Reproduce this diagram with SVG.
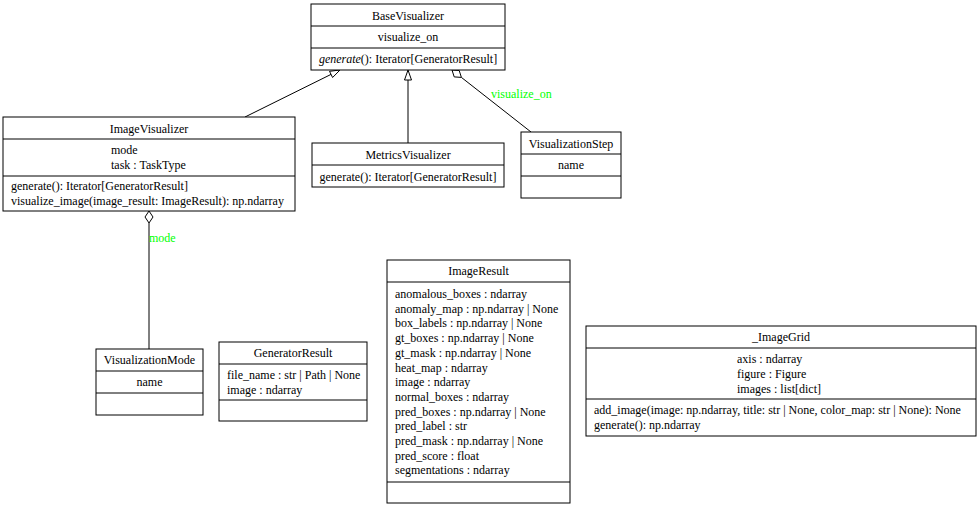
<svg xmlns="http://www.w3.org/2000/svg" width="980" height="507" viewBox="0 0 980 507">
<style>
.box{fill:#fff;stroke:#000;stroke-width:1}
.sep{stroke:#000;stroke-width:1}
text{font-size:12px;fill:#000}
.c{text-anchor:middle}
.lbl{fill:#00ff00}
.edge{stroke:#000;stroke-width:1;fill:none}
.head{fill:#fff;stroke:#000;stroke-width:1}
</style>
<rect width="980" height="507" fill="#fff"/>
<g font-family="'Liberation Serif', 'DejaVu Serif', serif">
<g id="connectors">
<path class="edge" d="M245,117 L331,74.4"/>
<polygon class="head" points="340,70 332.6,77.5 329.5,71.3"/>
<path class="edge" d="M408,143 L408,80"/>
<polygon class="head" points="408,70 404.5,80 411.5,80"/>
<path class="edge" d="M531,132 L461.4,77.4"/>
<polygon class="head" points="452,70 459.2,70.5 461.4,77.4 454.2,76.9"/>
<text class="lbl" x="491" y="98">visualize_on</text>
<path class="edge" d="M149,349 L149,223"/>
<polygon class="head" points="149,211 153,217 149,223 145,217"/>
<text class="lbl" x="149" y="242">mode</text>
</g>
<g id="BaseVisualizer">
<rect class="box" x="311" y="4" width="194" height="66"/>
<line class="sep" x1="311" y1="26" x2="505" y2="26"/>
<line class="sep" x1="311" y1="48" x2="505" y2="48"/>
<text class="c" x="408" y="20">BaseVisualizer</text>
<text class="c" x="408" y="41">visualize_on</text>
<text class="c" x="408" y="63"><tspan font-style="italic">generate</tspan>(): Iterator[GeneratorResult]</text>
</g>
<g id="ImageVisualizer">
<rect class="box" x="3" y="117" width="292" height="94"/>
<line class="sep" x1="3" y1="139" x2="295" y2="139"/>
<line class="sep" x1="3" y1="176" x2="295" y2="176"/>
<text class="c" x="149" y="133">ImageVisualizer</text>
<text x="111" y="154">mode</text>
<text x="111" y="169">task : TaskType</text>
<text x="11" y="190">generate(): Iterator[GeneratorResult]</text>
<text x="11" y="205">visualize_image(image_result: ImageResult): np.ndarray</text>
</g>
<g id="MetricsVisualizer">
<rect class="box" x="312" y="143" width="192" height="44"/>
<line class="sep" x1="312" y1="165" x2="504" y2="165"/>
<text class="c" x="408" y="159">MetricsVisualizer</text>
<text class="c" x="408" y="181">generate(): Iterator[GeneratorResult]</text>
</g>
<g id="VisualizationStep">
<rect class="box" x="521" y="132" width="100" height="66"/>
<line class="sep" x1="521" y1="154" x2="621" y2="154"/>
<line class="sep" x1="521" y1="176" x2="621" y2="176"/>
<text class="c" x="571" y="148">VisualizationStep</text>
<text class="c" x="571" y="169">name</text>
</g>
<g id="VisualizationMode">
<rect class="box" x="96" y="349" width="107" height="66"/>
<line class="sep" x1="96" y1="371" x2="203" y2="371"/>
<line class="sep" x1="96" y1="393" x2="203" y2="393"/>
<text class="c" x="149.5" y="364">VisualizationMode</text>
<text class="c" x="149.5" y="386">name</text>
</g>
<g id="GeneratorResult">
<rect class="box" x="219" y="342" width="148" height="79"/>
<line class="sep" x1="219" y1="364" x2="367" y2="364"/>
<line class="sep" x1="219" y1="400" x2="367" y2="400"/>
<text class="c" x="293" y="357">GeneratorResult</text>
<text x="227" y="379">file_name : str | Path | None</text>
<text x="227" y="394">image : ndarray</text>
</g>
<g id="ImageResult">
<rect class="box" x="387" y="260" width="183" height="243"/>
<line class="sep" x1="387" y1="282" x2="570" y2="282"/>
<line class="sep" x1="387" y1="482" x2="570" y2="482"/>
<text class="c" x="478.5" y="275">ImageResult</text>
<text x="395" y="298">anomalous_boxes : ndarray</text>
<text x="395" y="312.7">anomaly_map : np.ndarray | None</text>
<text x="395" y="327.4">box_labels : np.ndarray | None</text>
<text x="395" y="342.1">gt_boxes : np.ndarray | None</text>
<text x="395" y="356.8">gt_mask : np.ndarray | None</text>
<text x="395" y="371.5">heat_map : ndarray</text>
<text x="395" y="386.2">image : ndarray</text>
<text x="395" y="400.9">normal_boxes : ndarray</text>
<text x="395" y="415.6">pred_boxes : np.ndarray | None</text>
<text x="395" y="430.3">pred_label : str</text>
<text x="395" y="445">pred_mask : np.ndarray | None</text>
<text x="395" y="459.7">pred_score : float</text>
<text x="395" y="474.4">segmentations : ndarray</text>
</g>
<g id="_ImageGrid">
<rect class="box" x="586" y="326" width="390" height="110"/>
<line class="sep" x1="586" y1="348" x2="976" y2="348"/>
<line class="sep" x1="586" y1="399" x2="976" y2="399"/>
<text class="c" x="781" y="341">_ImageGrid</text>
<text x="737" y="363">axis : ndarray</text>
<text x="737" y="378">figure : Figure</text>
<text x="737" y="392.5">images : list[dict]</text>
<text x="594" y="414">add_image(image: np.ndarray, title: str | None, color_map: str | None): None</text>
<text x="594" y="429">generate(): np.ndarray</text>
</g>
</g>
</svg>
